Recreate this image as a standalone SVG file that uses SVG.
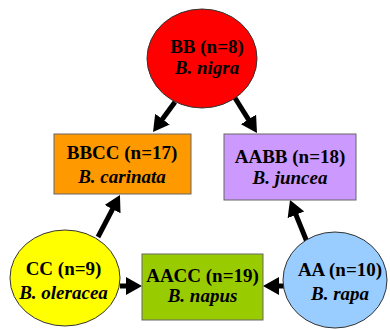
<svg xmlns="http://www.w3.org/2000/svg" width="390" height="329" viewBox="0 0 390 329">
  <defs>
    <marker id="ah" markerUnits="userSpaceOnUse" markerWidth="16" markerHeight="18" refX="4" refY="9" orient="auto">
      <path d="M0,0 L16,9 L0,18 z" fill="#000"/>
    </marker>
    <style>
      text { font-family: "Times New Roman", Times, Tinos, "Nimbus Roman", "FreeSerif", "Noto Serif", "Liberation Serif", serif; font-size: 19px; font-weight: bold; fill: #000; text-anchor: middle; }
      .i { font-style: italic; }
      .ell { stroke: #333; stroke-width: 1; }
      .box { stroke: #666; stroke-width: 1; }
      .conn line { stroke: #000; stroke-width: 5; marker-end: url(#ah); }
    </style>
  </defs>
  <rect x="0" y="0" width="390" height="329" fill="#fff"/>
  <g id="connectors" class="conn">
    <line x1="175" y1="102" x2="160.1" y2="122.3"/>
    <line x1="235" y1="98" x2="250.6" y2="122.8"/>
    <line x1="98" y1="237" x2="114.4" y2="205.6"/>
    <line x1="307" y1="242" x2="294.5" y2="211.1"/>
    <line x1="120" y1="286" x2="130" y2="286"/>
    <line x1="284" y1="286" x2="275" y2="286"/>
  </g>
  <g id="BB">
    <ellipse class="ell" cx="202" cy="58.5" rx="55" ry="49.5" fill="#FF0000"/>
    <text x="207" y="53">BB (n=8)</text>
    <text class="i" x="207" y="74">B. nigra</text>
  </g>
  <g id="BBCC">
    <rect class="box" x="54" y="134" width="137" height="60" fill="#FF9900"/>
    <text x="122" y="159">BBCC (n=17)</text>
    <text class="i" x="122" y="183">B. carinata</text>
  </g>
  <g id="AABB">
    <rect class="box" x="224" y="134" width="132" height="66" fill="#CC99FF"/>
    <text x="290" y="163">AABB (n=18)</text>
    <text class="i" x="290" y="184">B. juncea</text>
  </g>
  <g id="CC">
    <ellipse class="ell" cx="65" cy="278" rx="55" ry="48" fill="#FFFF00"/>
    <text x="63.5" y="275">CC (n=9)</text>
    <text class="i" x="63.5" y="299">B. oleracea</text>
  </g>
  <g id="AACC">
    <rect class="box" x="142" y="254" width="121" height="66" fill="#99CC00"/>
    <text x="202.5" y="282">AACC (n=19)</text>
    <text class="i" x="202.5" y="302">B. napus</text>
  </g>
  <g id="AA">
    <ellipse class="ell" cx="335" cy="280" rx="52" ry="48" fill="#99CCFF"/>
    <text x="340" y="276">AA (n=10)</text>
    <text class="i" x="340" y="300">B. rapa</text>
  </g>
</svg>
